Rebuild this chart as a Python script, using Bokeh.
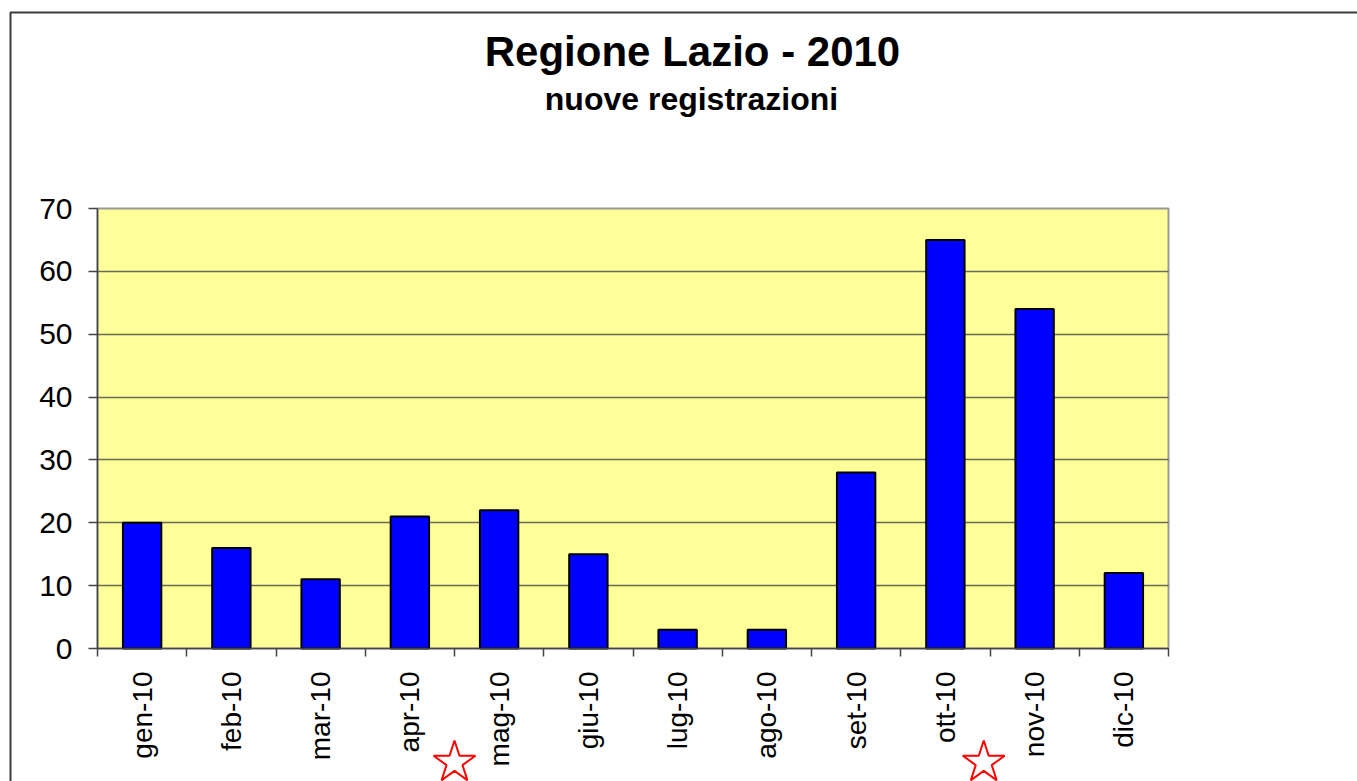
import math
from bokeh.plotting import figure
from bokeh.models import Range1d, FixedTicker, Label, BoxAnnotation
from bokeh.embed import file_html
from bokeh.resources import INLINE

# ---- data ----
months = ["gen-10", "feb-10", "mar-10", "apr-10", "mag-10", "giu-10",
          "lug-10", "ago-10", "set-10", "ott-10", "nov-10", "dic-10"]
registrations = [20, 16, 11, 21, 22, 15, 3, 3, 28, 65, 54, 12]
y_ticks = [0, 10, 20, 30, 40, 50, 60, 70]
title_text = "Regione Lazio - 2010"
subtitle_text = "nuove registrazioni"
star_x = [4.0, 9.93]   # positions (in category units) of the red star markers

centers = [i + 0.5 for i in range(len(months))]
boundaries = list(range(len(months) + 1))
n = len(months)
ymax = y_ticks[-1]

# ---- layout (pixels) ----
W, H = 1357, 781
PL, PT, PW, PH = 97, 208, 1071, 440          # plot area
ux = n / PW                                   # data units per px (x)
uy = ymax / PH                                # data units per px (y)
def px_x(px):
    return (px - PL) * ux
def px_y(py):
    return (PT + PH - py) * uy

FONT = "Liberation Sans"

p = figure(width=W, height=H, output_backend="svg", toolbar_location=None,
           title_location=None,
           x_range=Range1d(px_x(0), px_x(W)), y_range=Range1d(px_y(H), px_y(0)),
           min_border=0)
p.outline_line_color = None
p.background_fill_color = "white"
p.border_fill_color = "white"

# outer chart frame (its right and bottom edges fall outside the window)
p.add_layout(BoxAnnotation(left=px_x(10), top=px_y(12), right=px_x(W + 40), bottom=px_y(H + 40),
                           fill_alpha=0, line_color="#3a3a3a", line_alpha=1,
                           line_width=2, level="image"))
# yellow plot area
p.add_layout(BoxAnnotation(left=0, right=n, bottom=0, top=ymax,
                           fill_color="#FFFF99", fill_alpha=1,
                           line_color="#999999", line_alpha=1, line_width=2, level="image"))

p.vbar(x=centers, top=registrations, width=0.43,
       fill_color="#0000FF", line_color="black", line_width=2)

# grid
p.xgrid.visible = False
p.ygrid.ticker = FixedTicker(ticks=y_ticks[1:-1])
p.ygrid.cross_bounds = (0, n)
p.ygrid.grid_line_color = "#6a6a5a"
p.ygrid.grid_line_width = 1.5

# x axis
xa = p.xaxis[0]
xa.fixed_location = 0
xa.bounds = (0, n)
xa.ticker = FixedTicker(ticks=centers, minor_ticks=boundaries)
xa.major_label_overrides = {c: m for c, m in zip(centers, months)}
xa.major_label_orientation = math.pi / 2
xa.major_tick_out = 0
xa.major_tick_in = 0
xa.minor_tick_out = 8
xa.minor_tick_in = 0
xa.minor_tick_line_color = "#444444"
xa.minor_tick_line_width = 1.5
xa.axis_line_color = "#444444"
xa.axis_line_width = 1.5
xa.major_label_standoff = 15
xa.major_label_text_font = FONT
xa.major_label_text_font_size = "28px"
xa.major_label_text_color = "black"

# y axis
ya = p.yaxis[0]
ya.fixed_location = 0
ya.bounds = (0, ymax)
ya.ticker = FixedTicker(ticks=y_ticks)
ya.major_tick_out = 9
ya.major_tick_in = 0
ya.major_tick_line_color = "#444444"
ya.major_tick_line_width = 1.5
ya.minor_tick_out = 0
ya.minor_tick_in = 0
ya.axis_line_color = "#444444"
ya.axis_line_width = 1.5
ya.major_label_standoff = 16
ya.major_label_text_font = FONT
ya.major_label_text_font_size = "30px"
ya.major_label_text_color = "black"

# red star markers below the category labels
p.scatter(x=star_x, y=[px_y(762)] * len(star_x), marker="star", size=44,
          fill_color=None, line_color="red", line_width=2)

# titles
p.add_layout(Label(x=px_x(692), y=px_y(51), text=title_text, text_align="center",
                   text_baseline="alphabetic", text_font=FONT, text_font_style="bold",
                   text_font_size="42px", text_color="black"))
p.add_layout(Label(x=px_x(691), y=px_y(98), text=subtitle_text, text_align="center",
                   text_baseline="alphabetic", text_font=FONT, text_font_style="bold",
                   text_font_size="32px", text_color="black"))

open("out.html", "w").write(file_html(p, INLINE))
